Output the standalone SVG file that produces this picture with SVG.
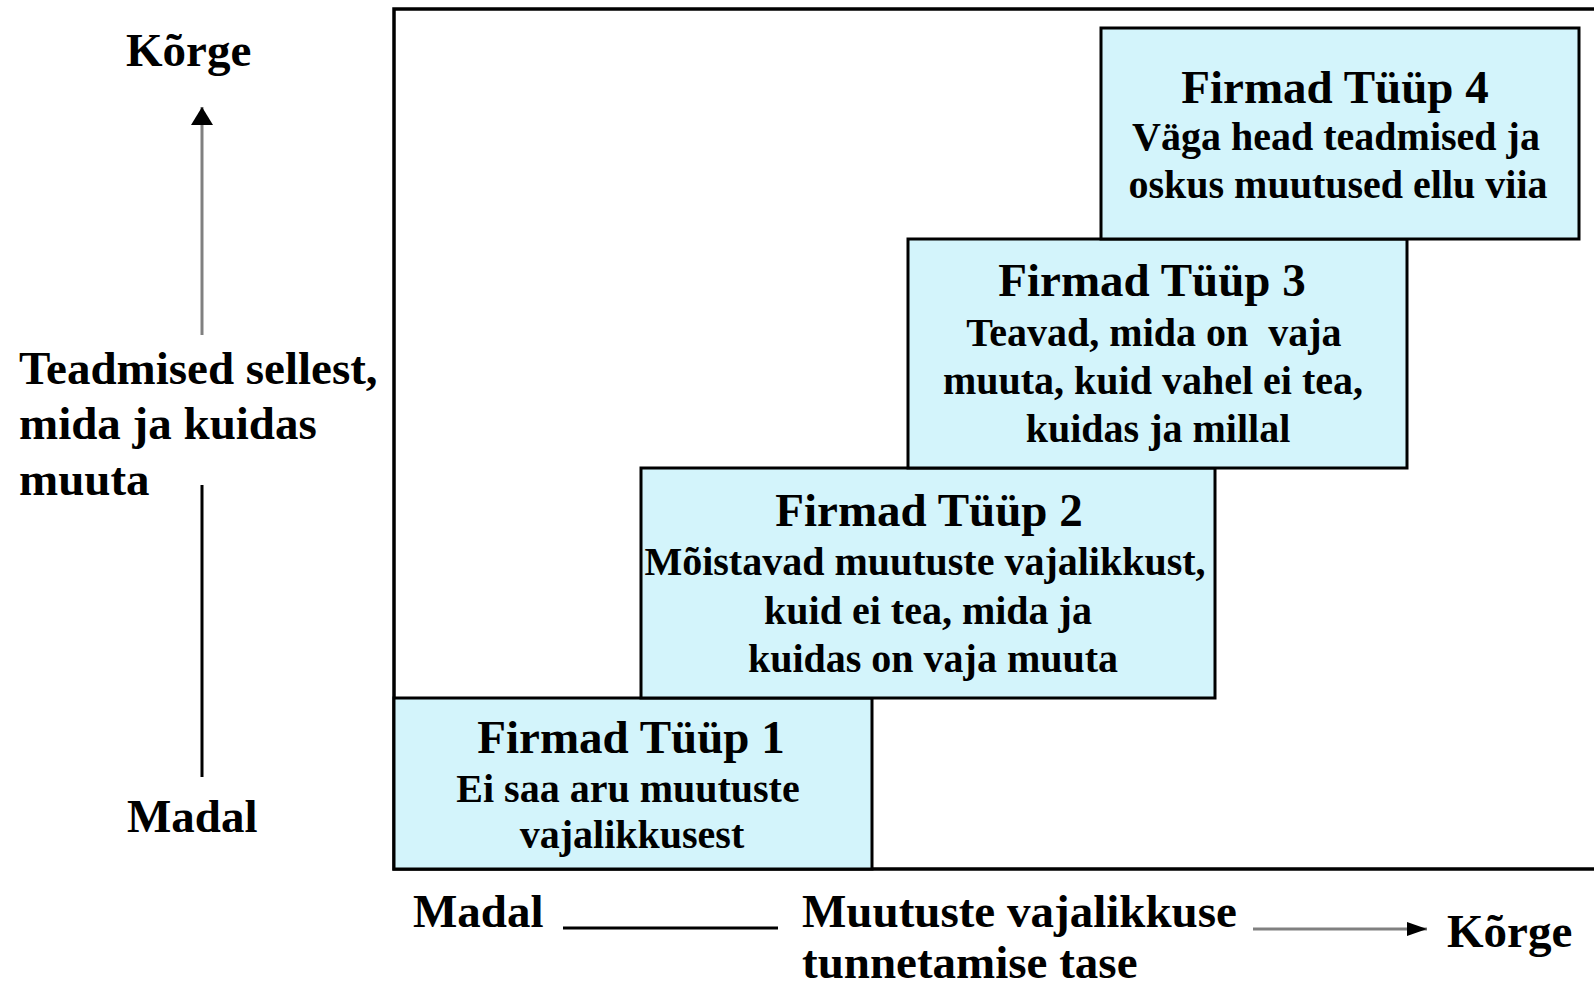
<svg xmlns="http://www.w3.org/2000/svg" width="1594" height="985" viewBox="0 0 1594 985">
<style>
text{font-family:"Liberation Serif","Times New Roman",serif;font-weight:bold;fill:#000}
.lbl{font-size:47px}
.ttl{font-size:47px;text-anchor:middle}
.bd{font-size:40px;text-anchor:middle}
.box{fill:#D3F4FB;stroke:#000;stroke-width:3}
.frame{fill:#fff;stroke:#000;stroke-width:3.5}
.grey{stroke:#808080;stroke-width:3;fill:none}
.blk{stroke:#000;stroke-width:3;fill:none}
</style>
<defs>
<marker id="ah" viewBox="0 0 20 14" refX="20" refY="7" markerWidth="20" markerHeight="14" markerUnits="userSpaceOnUse" orient="auto">
<path d="M0,0 L20,7 L0,14 Z" fill="#000"/>
</marker>
<marker id="ahv" viewBox="0 0 18 22" refX="18" refY="11" markerWidth="18" markerHeight="22" markerUnits="userSpaceOnUse" orient="auto">
<path d="M0,0 L18,11 L0,22 Z" fill="#000"/>
</marker>
</defs>
<rect width="1594" height="985" fill="#fff"/>
<g id="frame">
<path class="frame" d="M1600,9 L394,9 L394,869 L1600,869"/>
</g>
<g id="tyyp1">
<rect class="box" x="394" y="698" width="478" height="171"/>
<text class="ttl" x="631" y="753">Firmad Tüüp 1</text>
<text class="bd" x="628" y="802">Ei saa aru muutuste</text>
<text class="bd" x="632" y="848">vajalikkusest</text>
</g>
<g id="tyyp2">
<rect class="box" x="641" y="468" width="574" height="230"/>
<text class="ttl" x="929" y="526">Firmad Tüüp 2</text>
<text class="bd" x="925" y="575">Mõistavad muutuste vajalikkust,</text>
<text class="bd" x="928" y="624">kuid ei tea, mida ja</text>
<text class="bd" x="933" y="672">kuidas on vaja muuta</text>
</g>
<g id="tyyp3">
<rect class="box" x="908" y="239" width="499" height="229"/>
<text class="ttl" x="1152" y="296">Firmad Tüüp 3</text>
<text class="bd" x="1154" y="346" xml:space="preserve">Teavad, mida on  vaja</text>
<text class="bd" x="1153" y="394">muuta, kuid vahel ei tea,</text>
<text class="bd" x="1158" y="442">kuidas ja millal</text>
</g>
<g id="tyyp4">
<rect class="box" x="1101" y="28" width="478" height="211"/>
<text class="ttl" x="1335" y="103">Firmad Tüüp 4</text>
<text class="bd" x="1336" y="150">Väga head teadmised ja</text>
<text class="bd" x="1338" y="198">oskus muutused ellu viia</text>
</g>
<g id="y-axis">
<text class="lbl" x="126" y="66">Kõrge</text>
<text class="lbl" x="19" y="384">Teadmised sellest,</text>
<text class="lbl" x="19" y="439">mida ja kuidas</text>
<text class="lbl" x="19" y="495">muuta</text>
<text class="lbl" x="127" y="832">Madal</text>
</g>
<g id="x-axis">
<text class="lbl" x="413" y="927">Madal</text>
<text class="lbl" x="802" y="927">Muutuste vajalikkuse</text>
<text class="lbl" x="802" y="978">tunnetamise tase</text>
<text class="lbl" x="1447" y="947">Kõrge</text>
</g>
<g id="connectors">
<line class="grey" x1="202" y1="335" x2="202" y2="107" marker-end="url(#ahv)"/>
<line class="blk" x1="202" y1="485" x2="202" y2="777"/>
<line class="blk" x1="563" y1="928" x2="778" y2="928"/>
<line class="grey" x1="1253" y1="929" x2="1427" y2="929" marker-end="url(#ah)"/>
</g>
</svg>
